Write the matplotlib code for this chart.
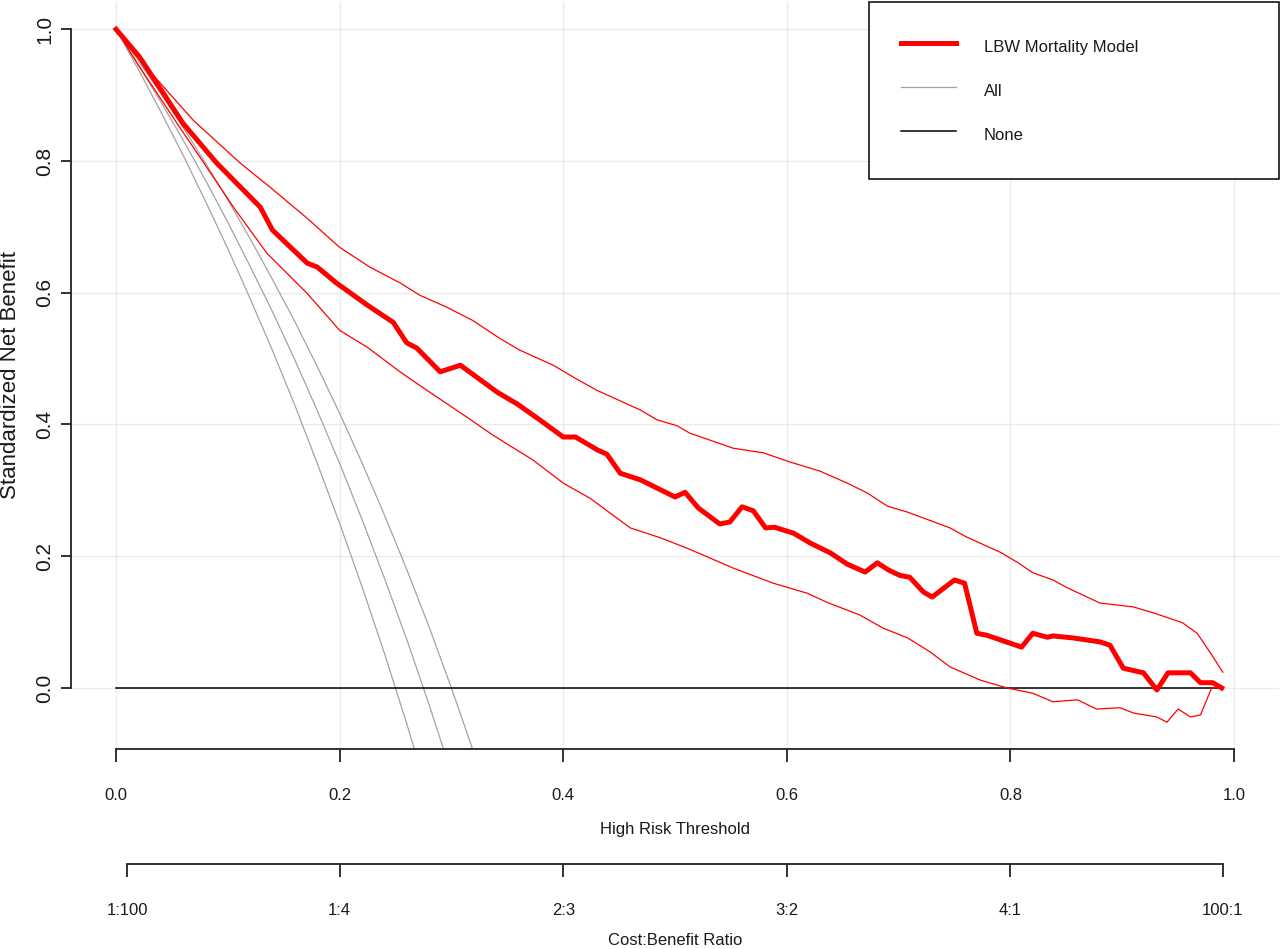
import numpy as np
import matplotlib
matplotlib.use("Agg")
import matplotlib.pyplot as plt
from matplotlib.lines import Line2D

# standardized net benefit curve of the model
thr_model = [0.000, 0.021, 0.060, 0.090, 0.129, 0.140, 0.171, 0.180, 0.197, 0.225,
             0.248, 0.260, 0.269, 0.290, 0.308, 0.341, 0.359, 0.379, 0.400, 0.411,
             0.431, 0.439, 0.451, 0.469, 0.500, 0.509, 0.521, 0.540, 0.549, 0.560,
             0.570, 0.581, 0.589, 0.606, 0.621, 0.639, 0.654, 0.670, 0.681, 0.691,
             0.701, 0.710, 0.722, 0.730, 0.750, 0.759, 0.770, 0.779, 0.810, 0.820,
             0.833, 0.838, 0.856, 0.880, 0.889, 0.901, 0.919, 0.931, 0.941, 0.961,
             0.970, 0.981, 0.989]
snb_model = [1.000, 0.958, 0.857, 0.797, 0.730, 0.695, 0.645, 0.639, 0.615, 0.581,
             0.555, 0.524, 0.516, 0.480, 0.490, 0.449, 0.431, 0.407, 0.381, 0.381,
             0.361, 0.355, 0.326, 0.316, 0.290, 0.297, 0.273, 0.249, 0.252, 0.275,
             0.269, 0.243, 0.244, 0.235, 0.220, 0.205, 0.188, 0.176, 0.190, 0.179,
             0.171, 0.168, 0.146, 0.138, 0.164, 0.159, 0.083, 0.080, 0.062, 0.083,
             0.077, 0.079, 0.076, 0.070, 0.065, 0.030, 0.023, -0.003, 0.023, 0.023,
             0.008, 0.008, 0.000]

# upper confidence limit
thr_upper = [0.000, 0.024, 0.069, 0.111, 0.138, 0.171, 0.200, 0.227, 0.254, 0.272,
             0.296, 0.319, 0.343, 0.361, 0.391, 0.412, 0.430, 0.469, 0.484, 0.502,
             0.513, 0.552, 0.579, 0.603, 0.630, 0.654, 0.672, 0.690, 0.708, 0.746,
             0.761, 0.791, 0.806, 0.820, 0.838, 0.851, 0.880, 0.910, 0.928, 0.954,
             0.967, 0.979, 0.990]
snb_upper = [1.000, 0.948, 0.862, 0.797, 0.760, 0.713, 0.669, 0.639, 0.615, 0.596,
             0.578, 0.558, 0.531, 0.513, 0.490, 0.469, 0.452, 0.422, 0.407, 0.398,
             0.387, 0.364, 0.357, 0.343, 0.329, 0.311, 0.296, 0.276, 0.267, 0.243,
             0.229, 0.206, 0.191, 0.175, 0.164, 0.152, 0.129, 0.123, 0.114, 0.099,
             0.083, 0.053, 0.024]

# lower confidence limit
thr_lower = [0.000, 0.019, 0.057, 0.075, 0.105, 0.135, 0.171, 0.200, 0.225, 0.254,
             0.278, 0.314, 0.337, 0.373, 0.400, 0.424, 0.460, 0.487, 0.511, 0.529,
             0.552, 0.588, 0.618, 0.636, 0.665, 0.686, 0.708, 0.728, 0.746, 0.773,
             0.797, 0.820, 0.838, 0.860, 0.877, 0.898, 0.910, 0.931, 0.940, 0.950,
             0.961, 0.970, 0.980, 0.989]
snb_lower = [1.000, 0.948, 0.851, 0.806, 0.730, 0.660, 0.599, 0.543, 0.517, 0.480,
             0.452, 0.411, 0.384, 0.346, 0.311, 0.288, 0.243, 0.228, 0.212, 0.199,
             0.182, 0.159, 0.144, 0.130, 0.111, 0.091, 0.076, 0.055, 0.032, 0.012,
             0.000, -0.008, -0.021, -0.018, -0.032, -0.030, -0.038, -0.044, -0.052, -0.032,
             -0.044, -0.041, 0.000, 0.002]

# treat all (estimate + limits)
thr_all = [0.00, 0.02, 0.04, 0.06, 0.08, 0.10, 0.12, 0.14, 0.16, 0.18,
           0.20, 0.22, 0.24, 0.26, 0.28, 0.30, 0.32]
snb_all_lo = [1.000, 0.939, 0.875, 0.809, 0.739, 0.667, 0.591, 0.512, 0.429, 0.341,
              0.250, 0.154, 0.053, -0.054, -0.167]
snb_all_mid = [1.000, 0.946, 0.890, 0.832, 0.771, 0.707, 0.640, 0.571, 0.498, 0.421,
               0.341, 0.256, 0.167, 0.074, -0.025, -0.130]
snb_all_hi = [1.000, 0.952, 0.903, 0.851, 0.797, 0.741, 0.682, 0.620, 0.556, 0.488,
              0.417, 0.342, 0.263, 0.180, 0.093, 0.000, -0.098]

# treat none
thr_none = [0.0, 0.99]
snb_none = [0.0, 0.0]

xticks = [0.0, 0.2, 0.4, 0.6, 0.8, 1.0]
xtick_labels = ["0.0", "0.2", "0.4", "0.6", "0.8", "1.0"]
yticks = [0.0, 0.2, 0.4, 0.6, 0.8, 1.0]
ytick_labels = ["0.0", "0.2", "0.4", "0.6", "0.8", "1.0"]
cb_ticks = [1 / 101, 0.2, 0.4, 0.6, 0.8, 100 / 101]
cb_labels = ["1:100", "1:4", "2:3", "3:2", "4:1", "100:1"]

fam = ["Liberation Sans", "DejaVu Sans"]
hsize = 12      # horizontal texts
txt_col = "#1a1a1a"
ax_col = "#222222"

fig = plt.figure(figsize=(12.8, 9.49), dpi=100)
ax = fig.add_axes([0.0557, 0.2112, 0.9433, 0.7871])
ax.set_xlim(-0.04, 1.04)
ax.set_ylim(-0.092, 1.042)

ax.grid(True, color="#ebebeb", lw=1.0)
ax.set_axisbelow(True)

ax.plot(thr_all[:len(snb_all_lo)], snb_all_lo, color="#a3a3a3", lw=0.9)
ax.plot(thr_all[:len(snb_all_mid)], snb_all_mid, color="#a3a3a3", lw=0.9)
ax.plot(thr_all[:len(snb_all_hi)], snb_all_hi, color="#a3a3a3", lw=0.9)
ax.plot(thr_none, snb_none, color="black", lw=1.1)
ax.plot(thr_upper, snb_upper, color="red", lw=0.9)
ax.plot(thr_lower, snb_lower, color="red", lw=0.9)
ax.plot(thr_model, snb_model, color="red", lw=3.6, solid_joinstyle="round")

for s in ["top", "right"]:
    ax.spines[s].set_visible(False)
ax.spines["left"].set_bounds(0, 1)
ax.spines["bottom"].set_bounds(0, 1)
for s in ["left", "bottom"]:
    ax.spines[s].set_linewidth(1.3)
    ax.spines[s].set_color(ax_col)

ax.set_xticks(xticks, xtick_labels, fontfamily=fam, fontsize=hsize, color=txt_col)
ax.set_yticks(yticks, ytick_labels, fontfamily=fam, fontsize=15, color=txt_col,
              rotation=90, va="center")
ax.tick_params(axis="x", length=9.4, width=1.3, color=ax_col, pad=18.7)
ax.tick_params(axis="y", length=7.2, width=1.3, color=ax_col, pad=4.9)

ax.set_xlabel("High Risk Threshold", fontfamily=fam, fontsize=hsize,
              color=txt_col, va="center")
ax.xaxis.set_label_coords(0.5, -0.109)
ax.set_ylabel("Standardized Net Benefit", fontfamily=fam, fontsize=16,
              color=txt_col, va="center")
ax.yaxis.set_label_coords(-0.0505, 0.5)

# cost:benefit axis under the plot
sec = ax.secondary_xaxis(-0.1545)
sec.spines["bottom"].set_bounds(1 / 101, 100 / 101)
sec.spines["bottom"].set_linewidth(1.3)
sec.spines["bottom"].set_color(ax_col)
sec.set_xticks(cb_ticks, cb_labels, fontfamily=fam, fontsize=hsize, color=txt_col)
sec.tick_params(axis="x", length=9.4, width=1.3, color=ax_col, pad=18.6)
sec.set_xlabel("Cost:Benefit Ratio", fontfamily=fam, fontsize=hsize,
               color=txt_col, labelpad=10.9)

handles = [Line2D([], [], color="red", lw=3.6),
           Line2D([], [], color="#a3a3a3", lw=0.9),
           Line2D([], [], color="black", lw=1.1)]
names = ["LBW Mortality Model", "All", "None"]
leg = ax.legend(handles, names, loc="upper left", mode="expand",
                bbox_to_anchor=(0.6607, 0.7625, 0.3395, 0.237), borderaxespad=0,
                fancybox=False, framealpha=1, edgecolor="black",
                prop={"family": fam, "size": hsize},
                borderpad=1.92, labelspacing=1.14, handlelength=3.3,
                handleheight=1.92, handletextpad=1.68)
leg.get_frame().set_linewidth(1.1)
for t in leg.get_texts():
    t.set_color(txt_col)

fig.savefig("out.png", dpi=100)
